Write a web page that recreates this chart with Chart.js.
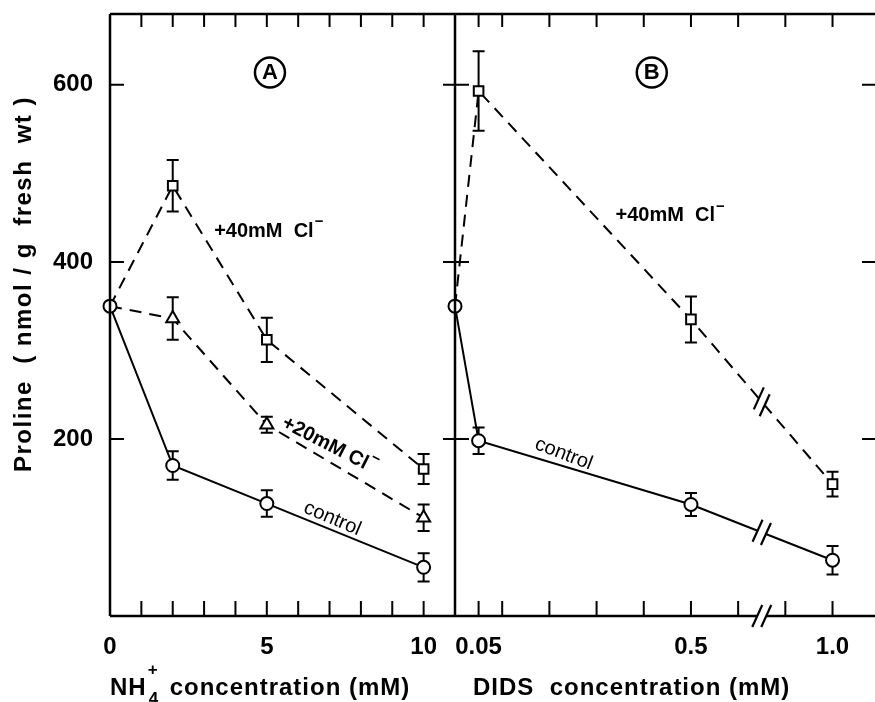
<!DOCTYPE html>
<html>
<head>
<meta charset="utf-8">
<script src="https://cdn.jsdelivr.net/npm/chart.js@4.4.1/dist/chart.umd.min.js"></script>
<style>
  html, body { margin: 0; padding: 0; background: #fff; overflow: hidden; }
  #wrapA { position: absolute; left: 0; top: 0; }
  #wrapB { position: absolute; left: 440px; top: 0; }
</style>
</head>
<body>
<div id="wrapA"><canvas id="chartA" width="455" height="702"></canvas></div>
<div id="wrapB"><canvas id="chartB" width="435" height="702"></canvas></div>
<script>
// Panel A: NH4+ concentration (mM)
const nh4 = [0, 2, 5, 10];
const ctrlA = [350, 170, 127, 55];
const ctrlAErr = [0, 16, 15, 16];
const cl20A = [350, 336, 216, 111];
const cl20AErr = [0, 24, 9, 15];
const cl40A = [350, 486, 312, 166];
const cl40AErr = [0, 29, 25, 17];

// Panel B: DIDS concentration (mM)
const dids = [0, 0.05, 0.5, 1.0];
const ctrlB = [350, 198, 126, 63];
const ctrlBErr = [0, 15, 13, 16];
const cl40B = [350, 593, 335, 149];
const cl40BErr = [0, 45, 26, 14];

// axes
const yTicks = [200, 400, 600];
const yLabels = ['200', '400', '600'];
const xTicksA = [1, 2, 3, 4, 5, 6, 7, 8, 9, 10];
const xLabelValsA = [0, 5, 10];
const xTicksB = [0.05, 0.1, 0.2, 0.3, 0.4, 0.5, 0.6, 0.9, 1.0];
const xLabelValsB = [0.05, 0.5, 1.0];
const xLabelsB = ['0.05', '0.5', '1.0'];

// broken DIDS axis: 0.65 .. 0.85 is cut out
const BREAK_AT = 0.65;
const BREAK_SHIFT = 0.2;
const brk = v => (v > BREAK_AT ? v - BREAK_SHIFT : v);

const FONT = 'Liberation Sans';
Chart.defaults.font.family = FONT;
Chart.defaults.color = '#000';

const pts = (xs, ys, f) => xs.map((v, i) => ({ x: f ? f(v) : v, y: ys[i] }));

function series(label, data, errors, style, dashed, hideFirst) {
    const r = style === 'circle' ? 6.5 : (style === 'triangle' ? 7.5 : 6.8);
    return {
        label, data, errors,
        borderColor: '#000',
        borderWidth: 2,
        borderDash: dashed ? [12, 8] : [],
        pointStyle: style,
        pointRadius: data.map((p, i) => (hideFirst && i === 0 ? 0 : r)),
        pointBackgroundColor: '#fff',
        pointBorderColor: '#000',
        pointBorderWidth: 2,
        tension: 0,
        clip: false
    };
}

// error bars, drawn under the markers
const errorBars = {
    id: 'errorBars',
    beforeDatasetsDraw(chart) {
        const { ctx, scales: { x, y } } = chart;
        ctx.save();
        ctx.strokeStyle = '#000';
        ctx.lineWidth = 2;
        chart.data.datasets.forEach(ds => {
            if (!ds.errors) return;
            ds.data.forEach((p, j) => {
                const e = ds.errors[j];
                if (!e) return;
                const px = x.getPixelForValue(p.x);
                const t = y.getPixelForValue(p.y + e);
                const b = y.getPixelForValue(p.y - e);
                ctx.beginPath();
                ctx.moveTo(px, t); ctx.lineTo(px, b);
                ctx.moveTo(px - 6, t); ctx.lineTo(px + 6, t);
                ctx.moveTo(px - 6, b); ctx.lineTo(px + 6, b);
                ctx.stroke();
            });
        });
        ctx.restore();
    }
};

function slashPair(ctx, cx, cy, dirX, dirY) {
    // two parallel "/" strokes centred on (cx, cy), spread along (dirX, dirY)
    [-4.5, 4.5].forEach(o => {
        const sx = cx + dirX * o, sy = cy + dirY * o;
        ctx.beginPath();
        ctx.moveTo(sx - 5, sy + 11);
        ctx.lineTo(sx + 5, sy - 11);
        ctx.stroke();
    });
}

function drawText(ctx, px, py, a) {
    ctx.save();
    ctx.translate(px, py);
    ctx.rotate((a.rot || 0) * Math.PI / 180);
    ctx.fillStyle = '#000';
    ctx.strokeStyle = '#000';
    ctx.font = a.font;
    ctx.textBaseline = 'middle';
    ctx.textAlign = 'left';
    const w = ctx.measureText(a.text).width;
    const supW = a.sup ? 9 : 0;
    const x0 = -(w + supW) / 2;
    ctx.fillText(a.text, x0, 1);
    if (a.sup) {
        ctx.font = 'bold 15px ' + FONT;
        ctx.fillText(a.sup, x0 + w + 1, -8);
    }
    if (a.circle) {
        ctx.lineWidth = 2.5;
        ctx.beginPath();
        ctx.arc(0, 0, a.circle, 0, Math.PI * 2);
        ctx.stroke();
    }
    ctx.restore();
}

// frame, inward ticks, axis break, labels and titles
const decor = {
    id: 'decor',
    afterDatasetsDraw(chart, args, opts) {
        const { ctx, chartArea: { left, right, top, bottom }, scales: { x, y } } = chart;
        ctx.save();
        ctx.strokeStyle = '#000';
        ctx.lineCap = 'butt';

        // breaks on the data lines
        if (opts.breakAt !== undefined) {
            const bx = x.getPixelForValue(opts.breakAt);
            chart.data.datasets.forEach((ds, i) => {
                const pts = chart.getDatasetMeta(i).data;
                for (let k = 1; k < pts.length; k++) {
                    const a = pts[k - 1], b = pts[k];
                    if (a.x < bx && b.x > bx) {
                        const t = (bx - a.x) / (b.x - a.x);
                        const by = a.y + t * (b.y - a.y);
                        const len = Math.hypot(b.x - a.x, b.y - a.y);
                        const dx = (b.x - a.x) / len, dy = (b.y - a.y) / len;
                        ctx.strokeStyle = '#fff';
                        ctx.lineWidth = 5;
                        ctx.beginPath();
                        ctx.moveTo(bx - dx * 4.5, by - dy * 4.5);
                        ctx.lineTo(bx + dx * 4.5, by + dy * 4.5);
                        ctx.stroke();
                        ctx.strokeStyle = '#000';
                        ctx.lineWidth = 2.2;
                        slashPair(ctx, bx, by, dx, dy);
                    }
                }
            });
        }

        // frame lines
        ctx.lineWidth = 2.5;
        ctx.beginPath();
        ctx.moveTo(left, top); ctx.lineTo(left, bottom);
        ctx.moveTo(left, top); ctx.lineTo(right, top);
        if (opts.breakAt !== undefined) {
            const bx = x.getPixelForValue(opts.breakAt);
            ctx.moveTo(left, bottom); ctx.lineTo(bx - 4.5, bottom);
            ctx.moveTo(bx + 4.5, bottom); ctx.lineTo(right, bottom);
        } else {
            ctx.moveTo(left, bottom); ctx.lineTo(right, bottom);
        }
        ctx.stroke();
        if (opts.breakAt !== undefined) {
            ctx.lineWidth = 2.2;
            slashPair(ctx, x.getPixelForValue(opts.breakAt), bottom, 1, 0);
        }

        // inward ticks
        ctx.lineWidth = 2;
        ctx.beginPath();
        opts.xTicks.forEach(v => {
            const px = x.getPixelForValue(v);
            ctx.moveTo(px, bottom); ctx.lineTo(px, bottom - 15);
            ctx.moveTo(px, top); ctx.lineTo(px, top + 13);
        });
        yTicks.forEach(v => {
            const py = y.getPixelForValue(v);
            ctx.moveTo(left - (opts.tickOut || 0), py); ctx.lineTo(left + 14, py);
            if (opts.rightTicks) { ctx.moveTo(right - 13, py); ctx.lineTo(right, py); }
        });
        ctx.stroke();

        // in-plot labels
        (opts.labels || []).forEach(a => {
            drawText(ctx, x.getPixelForValue(a.x), y.getPixelForValue(a.y), a);
        });

        // axis titles
        (opts.titles || []).forEach(t => t(ctx, chart));
        ctx.restore();
    }
};

function titleNH4(ctx, chart) {
    const x0 = chart.chartArea.left;
    const base = 695;
    ctx.fillStyle = '#000';
    ctx.textBaseline = 'alphabetic';
    ctx.textAlign = 'left';
    ctx.font = 'bold 24px ' + FONT;
    ctx.letterSpacing = '1px';
    ctx.fillText('NH', x0, base);
    let xx = x0 + ctx.measureText('NH').width + 1;
    ctx.font = 'bold 17px ' + FONT;
    ctx.fillText('+', xx, base - 20);
    ctx.fillText('4', xx + 1, base + 9);
    ctx.font = 'bold 24px ' + FONT;
    ctx.fillText('concentration (mM)', xx + 22, base);
    ctx.letterSpacing = '0px';
}

function titleProline(ctx) {
    ctx.save();
    ctx.translate(24, 284);
    ctx.rotate(-Math.PI / 2);
    ctx.fillStyle = '#000';
    ctx.textAlign = 'center';
    ctx.textBaseline = 'middle';
    ctx.font = 'bold 24px ' + FONT;
    ctx.letterSpacing = '1.5px';
    ctx.fillText('Proline  ( nmol / g  fresh  wt )', 0, 0);
    ctx.restore();
}

function titleDIDS(ctx, chart) {
    ctx.fillStyle = '#000';
    ctx.textBaseline = 'alphabetic';
    ctx.textAlign = 'left';
    ctx.font = 'bold 24px ' + FONT;
    ctx.letterSpacing = '1px';
    ctx.fillText('DIDS  concentration (mM)', chart.chartArea.left + 18, 695);
    ctx.letterSpacing = '0px';
}

const tickFont = { family: FONT, size: 24, weight: 'bold' };

const noPad = s => { s.paddingLeft = 0; s.paddingRight = 0; s.paddingTop = 0; s.paddingBottom = 0; };

const yScale = (show) => ({
    min: 0,
    max: 680,
    display: show,
    grid: { display: false },
    border: { display: false },
    afterBuildTicks: s => { s.ticks = yTicks.map(v => ({ value: v })); },
    afterFit: s => { if (show) s.width = 110; noPad(s); },
    ticks: {
        font: tickFont,
        color: '#000',
        padding: 9,
        callback: v => yLabels[yTicks.indexOf(v)] || ''
    }
});

new Chart(document.getElementById('chartA'), {
    type: 'line',
    data: {
        datasets: [
            series('control', pts(nh4, ctrlA), ctrlAErr, 'circle', false, false),
            series('+20mM Cl-', pts(nh4, cl20A), cl20AErr, 'triangle', true, true),
            series('+40mM Cl-', pts(nh4, cl40A), cl40AErr, 'rect', true, true)
        ]
    },
    options: {
        responsive: false,
        animation: false,
        events: [],
        layout: { autoPadding: false, padding: { top: 14, left: 0, right: 0, bottom: 0 } },
        plugins: {
            legend: { display: false },
            tooltip: { enabled: false },
            decor: {
                xTicks: xTicksA,
                labels: [
                    { text: 'A', x: 5.1, y: 614, circle: 15, font: 'bold 22px ' + FONT },
                    { text: '+40mM  Cl', sup: '\u2212', x: 5.05, y: 436, font: 'bold 20px ' + FONT },
                    { text: '+20mM Cl', sup: '\u2212', x: 7.0, y: 194, rot: 27, font: 'bold 20px ' + FONT },
                    { text: 'control', x: 7.1, y: 111, rot: 23, font: '20px ' + FONT }
                ],
                titles: [titleNH4, titleProline]
            }
        },
        scales: {
            x: {
                type: 'linear',
                min: 0,
                max: 11,
                grid: { display: false },
                border: { display: false },
                afterBuildTicks: s => { s.ticks = [0, ...xTicksA].map(v => ({ value: v })); },
                afterFit: s => { s.height = 86; noPad(s); },
                ticks: {
                    font: tickFont,
                    color: '#000',
                    padding: 9,
                    maxRotation: 0,
                    autoSkip: false,
                    callback: v => (xLabelValsA.includes(v) ? String(v) : '')
                }
            },
            y: yScale(true)
        }
    },
    plugins: [errorBars, decor]
});

new Chart(document.getElementById('chartB'), {
    type: 'line',
    data: {
        datasets: [
            series('control', pts(dids, ctrlB, brk), ctrlBErr, 'circle', false, false),
            series('+40mM Cl-', pts(dids, cl40B, brk), cl40BErr, 'rect', true, true)
        ]
    },
    options: {
        responsive: false,
        animation: false,
        events: [],
        layout: { autoPadding: false, padding: { top: 14, left: 15, right: 0, bottom: 0 } },
        plugins: {
            legend: { display: false },
            tooltip: { enabled: false },
            decor: {
                xTicks: xTicksB.map(brk),
                breakAt: BREAK_AT,
                tickOut: 12,
                rightTicks: true,
                labels: [
                    { text: 'B', x: 0.417, y: 614, circle: 15, font: 'bold 22px ' + FONT },
                    { text: '+40mM  Cl', sup: '\u2212', x: 0.455, y: 453, font: 'bold 20px ' + FONT },
                    { text: 'control', x: 0.231, y: 184, rot: 21, font: '20px ' + FONT }
                ],
                titles: [titleDIDS]
            }
        },
        scales: {
            x: {
                type: 'linear',
                min: 0,
                max: 0.89,
                grid: { display: false },
                border: { display: false },
                afterBuildTicks: s => { s.ticks = xTicksB.map(v => ({ value: brk(v) })); },
                afterFit: s => { s.height = 86; noPad(s); },
                ticks: {
                    font: tickFont,
                    color: '#000',
                    padding: 9,
                    maxRotation: 0,
                    autoSkip: false,
                    callback: v => {
                        const i = xLabelValsB.findIndex(l => Math.abs(brk(l) - v) < 1e-9);
                        return i >= 0 ? xLabelsB[i] : '';
                    }
                }
            },
            y: yScale(false)
        }
    },
    plugins: [errorBars, decor]
});
</script>
</body>
</html>
